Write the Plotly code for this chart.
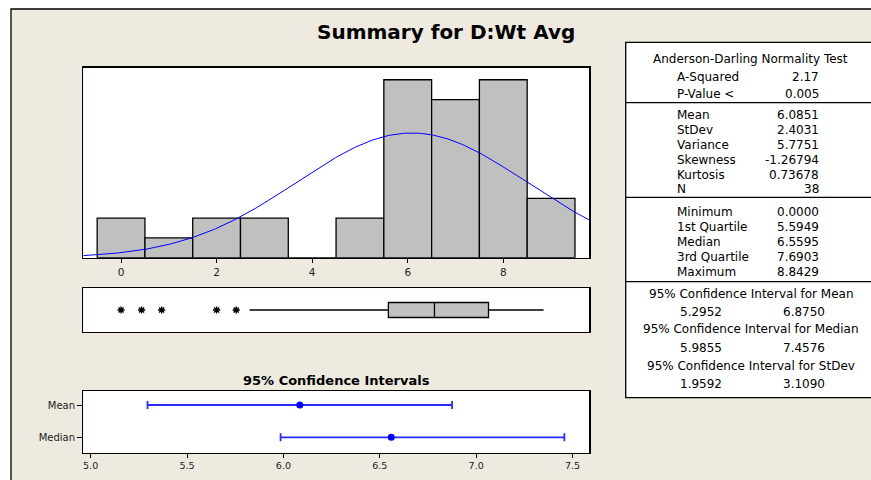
import numpy as np
import plotly.graph_objects as go

# ---------------- data ----------------
bin_centers = [0, 1, 2, 3, 4, 5, 6, 7, 8, 9]
bin_counts = [2, 1, 2, 2, 0, 2, 9, 8, 9, 3]
n_obs = 38
mean_val = 6.0851
stdev_val = 2.4031
q1_val = 5.5949
median_val = 6.5595
q3_val = 7.6903
max_val = 8.8429
lower_whisker = 2.69
outlier_values = [0.0, 0.43, 0.85, 2.00, 2.41]
ci_labels = ["Mean", "Median"]
ci_centers = [6.0851, 6.5595]
ci_low = [5.2952, 5.9855]
ci_high = [6.8750, 7.4576]
hist_ticks = [0, 2, 4, 6, 8]
ci_ticks = [5.0, 5.5, 6.0, 6.5, 7.0, 7.5]

ad_rows = [("A-Squared", "2.17"), ("P-Value <", "0.005")]
desc_rows = [("Mean", "6.0851"), ("StDev", "2.4031"), ("Variance", "5.7751"),
             ("Skewness", "-1.26794"), ("Kurtosis", "0.73678"), ("N", "38")]
quart_rows = [("Minimum", "0.0000"), ("1st Quartile", "5.5949"), ("Median", "6.5595"),
              ("3rd Quartile", "7.6903"), ("Maximum", "8.8429")]
ci_rows = [("95% Confidence Interval for Mean", "5.2952", "6.8750"),
           ("95% Confidence Interval for Median", "5.9855", "7.4576"),
           ("95% Confidence Interval for StDev", "1.9592", "3.1090")]

# ---------------- geometry helpers (window px -> paper) ----------------
W, H = 871, 480
def px(x):
    return x / W
def py(y):
    return 1 - y / H

BG = "#EEEAE0"
FONT = "DejaVu Sans"
LW = 1.3

fig = go.Figure()

# histogram
fig.add_trace(go.Bar(x=bin_centers, y=bin_counts, width=1.0,
                     marker=dict(color="#C0C0C0", line=dict(color="black", width=LW)),
                     xaxis="x", yaxis="y", showlegend=False, hoverinfo="skip"))
# fitted normal curve from the reported mean / stdev
xc = np.linspace(-0.79, 9.80, 300)
yc = n_obs * 1.0 / (stdev_val * np.sqrt(2 * np.pi)) * np.exp(-0.5 * ((xc - mean_val) / stdev_val) ** 2)
fig.add_trace(go.Scatter(x=xc, y=yc, mode="lines", line=dict(color="#0000FF", width=1),
                         xaxis="x", yaxis="y", showlegend=False, hoverinfo="skip"))

# boxplot
fig.add_trace(go.Box(q1=[q1_val], median=[median_val], q3=[q3_val],
                     lowerfence=[lower_whisker], upperfence=[max_val], y=[0],
                     orientation="h", fillcolor="#C0C0C0",
                     line=dict(color="black", width=LW), whiskerwidth=0, width=1.0,
                     boxpoints=False, xaxis="x2", yaxis="y2", showlegend=False,
                     hoverinfo="skip"))
fig.add_trace(go.Scatter(x=outlier_values, y=[0] * len(outlier_values), mode="markers",
                         marker=dict(symbol="asterisk-open", size=6, color="black",
                                     line=dict(color="black", width=1.4)),
                         xaxis="x2", yaxis="y2", showlegend=False, hoverinfo="skip"))

# confidence intervals
fig.add_trace(go.Scatter(x=ci_centers, y=ci_labels, mode="markers",
                         marker=dict(color="#0000FF", size=7),
                         error_x=dict(type="data", symmetric=False,
                                      array=[h - c for h, c in zip(ci_high, ci_centers)],
                                      arrayminus=[c - l for l, c in zip(ci_low, ci_centers)],
                                      color="#2A2AFF", thickness=1.8, width=4),
                         xaxis="x3", yaxis="y3", showlegend=False, hoverinfo="skip"))

xdom = [px(83.3), px(589.3)]
frame = dict(showline=True, mirror=True, linecolor="black", linewidth=LW,
             showgrid=False, zeroline=False)

layout = dict(
    width=W, height=H, margin=dict(l=0, r=0, t=0, b=0),
    paper_bgcolor="white", plot_bgcolor="white",
    font=dict(family=FONT, color="black"),
    xaxis=dict(domain=xdom, anchor="y", range=[-0.79, 9.80], tickvals=hist_ticks,
               ticks="outside", ticklen=4, tickwidth=1, tickcolor="black",
               tickfont=dict(size=10.5, family=FONT, color="#222"), **frame),
    yaxis=dict(domain=[py(257.7), py(67.5)], anchor="x", range=[0, 9.62],
               showticklabels=False, ticks="", **frame),
    xaxis2=dict(domain=xdom, anchor="y2", range=[-0.79, 9.80], showticklabels=False,
                ticks="", **frame),
    yaxis2=dict(domain=[py(331.7), py(288.3)], anchor="x2", range=[-1.45, 1.45],
                showticklabels=False, ticks="", **frame),
    xaxis3=dict(domain=xdom, anchor="y3", range=[4.962, 7.587], tickvals=ci_ticks,
                tickformat=".1f", ticks="outside", ticklen=4, tickwidth=1,
                tickcolor="black", tickfont=dict(size=9.5, family=FONT, color="#222"),
                **frame),
    yaxis3=dict(domain=[py(452.7), py(391.0)], anchor="x3", type="category",
                categoryorder="array", categoryarray=["Median", "Mean"],
                range=[-0.478, 1.434], ticks="outside", ticklen=5, tickwidth=1,
                tickcolor="black", tickfont=dict(size=10, family=FONT, color="#222"),
                **frame),
    bargap=0,
)
fig.update_layout(**layout)

shapes = []
# outer beige frame
shapes.append(dict(type="rect", xref="paper", yref="paper", x0=px(11), x1=px(900),
                   y0=py(520), y1=py(9), fillcolor=BG, line=dict(color="black", width=LW),
                   layer="below"))
# white panel backgrounds
for (t, b) in [(67.5, 257.7), (288.3, 331.7), (391.0, 452.7)]:
    shapes.append(dict(type="rect", xref="paper", yref="paper", x0=xdom[0], x1=xdom[1],
                       y0=py(b), y1=py(t), fillcolor="white", line=dict(width=0),
                       layer="below"))
# table (its right border lies outside the visible window)
tx0, tx1 = 625.7, 885.0
shapes.append(dict(type="rect", xref="paper", yref="paper", x0=px(tx0), x1=px(tx1),
                   y0=py(397.7), y1=py(42.3), fillcolor="white",
                   line=dict(color="black", width=LW), layer="below"))
for yl in [102.7, 197.3, 281.7]:
    shapes.append(dict(type="line", xref="paper", yref="paper", x0=px(tx0), x1=px(tx1),
                       y0=py(yl), y1=py(yl), line=dict(color="black", width=LW)))
fig.update_layout(shapes=shapes)

ann = []
def text(x, y, s, anchor="left", size=12, bold=False):
    ann.append(dict(xref="paper", yref="paper", x=px(x), y=py(y),
                    text=(f"<b>{s}</b>" if bold else s),
                    showarrow=False, xanchor=anchor, yanchor="middle",
                    font=dict(family=FONT, size=size, color="black")))

text(446, 31.7, "Summary for D:Wt Avg", anchor="center", size=20, bold=True)
text(336, 380, "95% Confidence Intervals", anchor="center", size=13, bold=True)

text(750, 59, "Anderson-Darling Normality Test", anchor="center")
for (lab, val), yy in zip(ad_rows, [76.7, 94.0]):
    text(675, yy, lab)
    text(821, yy, val, anchor="right")
for (lab, val), yy in zip(desc_rows, [115, 130, 144.5, 160, 175, 189]):
    text(675, yy, lab)
    text(821, yy, val, anchor="right")
for (lab, val), yy in zip(quart_rows, [212, 227, 242, 257, 271.5]):
    text(675, yy, lab)
    text(821, yy, val, anchor="right")
for (lab, lo, hi), (yt, yv) in zip(ci_rows, [(294, 312), (329, 347.5), (366, 384)]):
    text(751, yt, lab, anchor="center")
    text(678, yv, lo)
    text(781, yv, hi)
fig.update_layout(annotations=ann)

fig.write_html(
    "out.html",
    config={"displayModeBar": False, "staticPlot": True},
    post_script="document.body.style.margin='0';document.body.style.overflow='hidden';",
)
